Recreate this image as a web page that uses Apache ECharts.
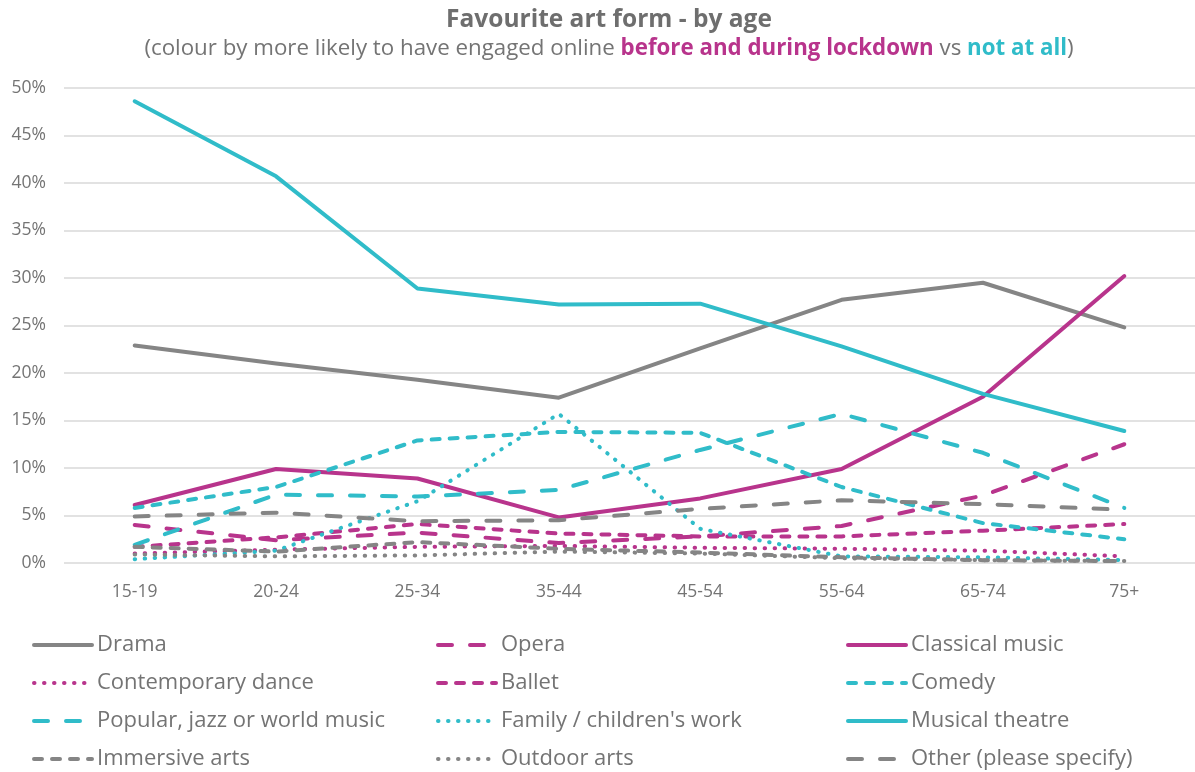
<!DOCTYPE html>
<html>
<head>
<meta charset="utf-8">
<title>Favourite art form - by age</title>
<script src="https://cdn.jsdelivr.net/npm/echarts@6/dist/echarts.min.js"></script>
<style>
  html, body { margin: 0; padding: 0; background: #ffffff; }
  #chart { width: 1195px; height: 772px; }
</style>
</head>
<body>
<div id="chart"></div>
<script>
// Age bands along the x axis
const categories = ['15-19', '20-24', '25-34', '35-44', '45-54', '55-64', '65-74', '75+'];

// Share naming each art form as favourite (%), per age band
const drama             = [22.9, 21.0, 19.3, 17.4, 22.6, 27.7, 29.5, 24.8];
const opera             = [4.0, 2.4, 3.2, 2.1, 2.8, 3.9, 7.1, 12.5];
const classicalMusic    = [6.1, 9.9, 8.9, 4.8, 6.8, 9.9, 17.5, 30.2];
const contemporaryDance = [1.0, 1.4, 1.7, 1.8, 1.6, 1.5, 1.3, 0.7];
const ballet            = [1.7, 2.7, 4.1, 3.1, 2.8, 2.8, 3.4, 4.1];
const comedy            = [5.8, 8.0, 12.9, 13.8, 13.7, 8.0, 4.2, 2.5];
const popularMusic      = [1.9, 7.2, 7.0, 7.7, 11.9, 15.7, 11.6, 5.8];
const familyWork        = [0.4, 1.3, 6.5, 15.7, 3.6, 0.7, 0.6, 0.3];
const musicalTheatre    = [48.6, 40.7, 28.9, 27.2, 27.3, 22.8, 17.8, 13.9];
const immersiveArts     = [1.7, 1.2, 2.2, 1.5, 1.1, 0.6, 0.3, 0.2];
const outdoorArts       = [0.9, 0.7, 0.8, 1.2, 1.0, 0.5, 0.3, 0.2];
const otherArt          = [4.9, 5.3, 4.4, 4.5, 5.7, 6.6, 6.2, 5.6];

// Y axis ticks (percent)
const yTicks = [0, 5, 10, 15, 20, 25, 30, 35, 40, 45, 50];

const GREY = '#858585';
const PINK = '#b8348c';
const TEAL = '#30bcc9';
const TEXT = '#747474';
const FONT = '"Open Sans", "DejaVu Sans", sans-serif';
const LINE_WIDTH = 4;

const SOLID = 'solid';
const LONG_DASH = [14, 18];
const SHORT_DASH = [8, 10];
const DOTS = [0.5, 9.5];

function line(name, data, color, type) {
  return {
    name: name,
    type: 'line',
    data: data,
    symbol: 'none',
    smooth: false,
    lineStyle: { color: color, width: LINE_WIDTH, type: type, cap: 'round', join: 'round' },
    itemStyle: { color: color },
    emphasis: { disabled: true }
  };
}

const series = [
  line('Drama', drama, GREY, SOLID),
  line('Opera', opera, PINK, LONG_DASH),
  line('Classical music', classicalMusic, PINK, SOLID),
  line('Contemporary dance', contemporaryDance, PINK, DOTS),
  line('Ballet', ballet, PINK, SHORT_DASH),
  line('Comedy', comedy, TEAL, SHORT_DASH),
  line('Popular, jazz or world music', popularMusic, TEAL, LONG_DASH),
  line("Family / children's work", familyWork, TEAL, DOTS),
  line('Musical theatre', musicalTheatre, TEAL, SOLID),
  line('Immersive arts', immersiveArts, GREY, SHORT_DASH),
  line('Outdoor arts', outdoorArts, GREY, DOTS),
  line('Other (please specify)', otherArt, GREY, LONG_DASH)
];

// Legend: three columns, four rows, filled row by row in series order
const legendColumns = [27, 431, 841];
const legendRowTop = 629;
const legendRowStep = 38;
const legends = series.map(function (s, i) {
  return {
    left: legendColumns[i % 3],
    top: legendRowTop + Math.floor(i / 3) * legendRowStep,
    itemWidth: 58,
    itemHeight: 22,
    itemGap: 0,
    selectedMode: false,
    data: [s.name],
    itemStyle: { opacity: 0, borderWidth: 0 },
    lineStyle: { width: LINE_WIDTH, cap: 'round' },
    textStyle: { color: TEXT, fontSize: 22, fontFamily: FONT }
  };
});

const chart = echarts.init(document.getElementById('chart'), null, { renderer: 'canvas' });

chart.setOption({
  animation: false,
  backgroundColor: '#ffffff',
  title: {
    left: 604,
    textAlign: 'center',
    top: 3,
    itemGap: 5,
    text: 'Favourite art form - by age',
    textStyle: { color: '#6e6e6e', fontSize: 24.5, fontWeight: 'bold', fontFamily: FONT },
    subtext: '{g|(colour by more likely to have engaged online }{p|before and during lockdown}{g| vs }{t|not at all}{g|)}',
    subtextStyle: {
      fontFamily: FONT,
      rich: {
        g: { color: TEXT, fontSize: 22.3, fontFamily: FONT },
        p: { color: PINK, fontSize: 22.3, fontWeight: 'bold', fontFamily: FONT },
        t: { color: TEAL, fontSize: 22.3, fontWeight: 'bold', fontFamily: FONT }
      }
    }
  },
  legend: legends,
  grid: { left: 64, right: -5, top: 88, bottom: 209, containLabel: false },
  xAxis: {
    type: 'category',
    data: categories,
    boundaryGap: true,
    axisLine: { show: false },
    axisTick: { show: false },
    axisLabel: { color: TEXT, fontSize: 17.5, fontFamily: FONT, margin: 20 }
  },
  yAxis: {
    type: 'value',
    min: yTicks[0],
    max: yTicks[yTicks.length - 1],
    interval: yTicks[1] - yTicks[0],
    axisLine: { show: false },
    axisTick: { show: false },
    splitLine: { lineStyle: { color: '#e2e2e2', width: 2 } },
    axisLabel: { color: TEXT, fontSize: 17.5, fontFamily: FONT, margin: 18, formatter: '{value}%' }
  },
  series: series
});
</script>
</body>
</html>
